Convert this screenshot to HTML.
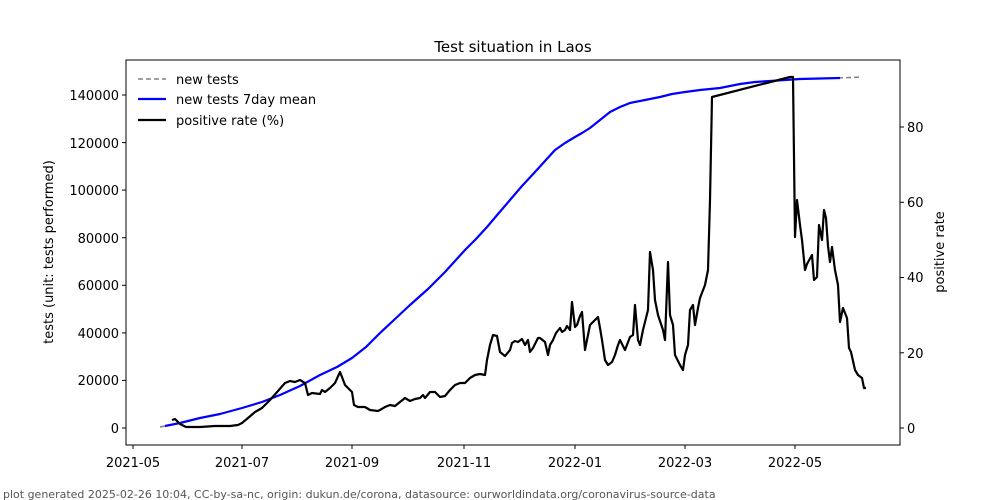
<!DOCTYPE html><html><head><style>body{margin:0;background:#fff}svg{display:block}text{font-family:"DejaVu Sans","Liberation Sans",sans-serif;font-size:13px;fill:#000}</style></head><body>
<svg width="1000" height="500" viewBox="0 0 1000 500">
<rect x="126" y="60" width="774" height="385" fill="none" stroke="#000" stroke-width="1"/>
<text x="513" y="52" text-anchor="middle" style="font-size:15px">Test situation in Laos</text>
<g stroke="#000">
<line x1="126" x2="122" y1="428" y2="428"/><line x1="126" x2="122" y1="380.4" y2="380.4"/><line x1="126" x2="122" y1="332.9" y2="332.9"/><line x1="126" x2="122" y1="285.3" y2="285.3"/><line x1="126" x2="122" y1="237.7" y2="237.7"/><line x1="126" x2="122" y1="190.1" y2="190.1"/><line x1="126" x2="122" y1="142.6" y2="142.6"/><line x1="126" x2="122" y1="95" y2="95"/>
<line x1="900" x2="904" y1="428" y2="428"/><line x1="900" x2="904" y1="352.8" y2="352.8"/><line x1="900" x2="904" y1="277.5" y2="277.5"/><line x1="900" x2="904" y1="202.3" y2="202.3"/><line x1="900" x2="904" y1="127" y2="127"/>
<line x1="133" x2="133" y1="445" y2="449"/><line x1="242" x2="242" y1="445" y2="449"/><line x1="352" x2="352" y1="445" y2="449"/><line x1="464" x2="464" y1="445" y2="449"/><line x1="575" x2="575" y1="445" y2="449"/><line x1="685" x2="685" y1="445" y2="449"/><line x1="795" x2="795" y1="445" y2="449"/>
</g>
<g text-anchor="end"><text x="119" y="433">0</text><text x="119" y="385">20000</text><text x="119" y="338">40000</text><text x="119" y="290">60000</text><text x="119" y="243">80000</text><text x="119" y="195">100000</text><text x="119" y="148">120000</text><text x="119" y="100">140000</text></g>
<g><text x="907" y="433">0</text><text x="907" y="358">20</text><text x="907" y="282">40</text><text x="907" y="207">60</text><text x="907" y="132">80</text></g>
<g text-anchor="middle"><text x="133" y="467">2021-05</text><text x="242" y="467">2021-07</text><text x="352" y="467">2021-09</text><text x="464" y="467">2021-11</text><text x="575" y="467">2022-01</text><text x="685" y="467">2022-03</text><text x="795" y="467">2022-05</text></g>
<text transform="translate(53,252) rotate(-90)" text-anchor="middle">tests (unit: tests performed)</text>
<text transform="translate(944,252) rotate(-90)" text-anchor="middle">positive rate</text>
<text x="3" y="498" style="font-size:11px;fill:#555">plot generated 2025-02-26 10:04, CC-by-sa-nc, origin: dukun.de/corona, datasource: ourworldindata.org/coronavirus-source-data</text>
<polyline fill="none" stroke="#808080" stroke-width="1.5" stroke-dasharray="5,3" points="160,427 165,426"/>
<polyline fill="none" stroke="#808080" stroke-width="1.5" stroke-dasharray="5,3" points="838,78 862,77"/>
<polyline fill="none" stroke="#0000ff" stroke-width="2.2" stroke-linejoin="round" points="165,426 180,423 200,418 220,414 242,408 262,402 280,395 300,386 320,375 337,367 352,358 366,347 380,333 395,319 410,305 428,289 445,272 455,261 465,250 476,239 487,227 498,214 510,200 522,186 535,172 545,161 555,150 565,143 575,137 582,133 590,128 600,120 610,112 620,107 630,103 645,100 660,97 672,94 685,92 700,90 720,88 730,86 740,84 755,82 770,81 785,80 800,79 820,78.5 840,78"/>
<polyline fill="none" stroke="#000" stroke-width="2.2" stroke-linejoin="round" points="172,420 175,419 180,424 186,427 200,427 215,426 230,426 238,425 242,423 248,418 255,412 262,408 270,400 278,391 285,383 290,381 295,382 300,380 305,383 308,395 312,393 320,394 322,390 325,392 330,388 335,383 340,372 342,377 345,385 348,388 352,392 354,405 358,407 365,407 370,410 378,411 380,410 385,407 390,405 395,406 400,402 405,398 410,401 415,399 420,398 423,395 425,398 430,392 435,392 440,397 445,396 450,390 455,385 460,383 465,383 470,378 475,375 480,374 485,375 487,360 490,345 493,335 497,336 500,352 505,356 510,350 512,343 515,341 518,342 522,339 525,345 528,340 530,352 533,348 538,338 540,338 545,342 548,355 550,345 553,340 556,333 560,328 562,332 565,330 567,326 570,330 572,302 575,327 577,325 580,316 582,312 585,350 588,335 590,325 595,320 598,317 600,328 602,340 605,360 608,365 612,362 615,355 618,345 620,340 625,350 630,337 633,335 635,305 638,340 640,345 643,330 648,310 650,252 653,270 655,300 658,315 663,330 665,340 668,262 670,315 673,325 675,355 680,365 683,370 685,355 688,345 690,310 693,305 695,325 698,308 700,298 705,285 708,270 710,200 712,97 790,77 793,77 795,237 797,200 800,225 802,240 805,270 807,264 812,255 814,280 817,277 819,225 822,240 824,210 826,218 828,246 830,262 832,247 835,270 838,285 840,322 843,308 847,318 849,348 851,352 855,370 858,375 862,378 864,388 866,388"/>
<line x1="138" x2="166" y1="79" y2="79" stroke="#808080" stroke-width="1.5" stroke-dasharray="5,3"/>
<line x1="138" x2="166" y1="99" y2="99" stroke="#0000ff" stroke-width="2.2"/>
<line x1="138" x2="166" y1="120" y2="120" stroke="#000" stroke-width="2.2"/>
<text x="176" y="84">new tests</text><text x="176" y="104">new tests 7day mean</text><text x="176" y="125">positive rate (%)</text>
</svg></body></html>
